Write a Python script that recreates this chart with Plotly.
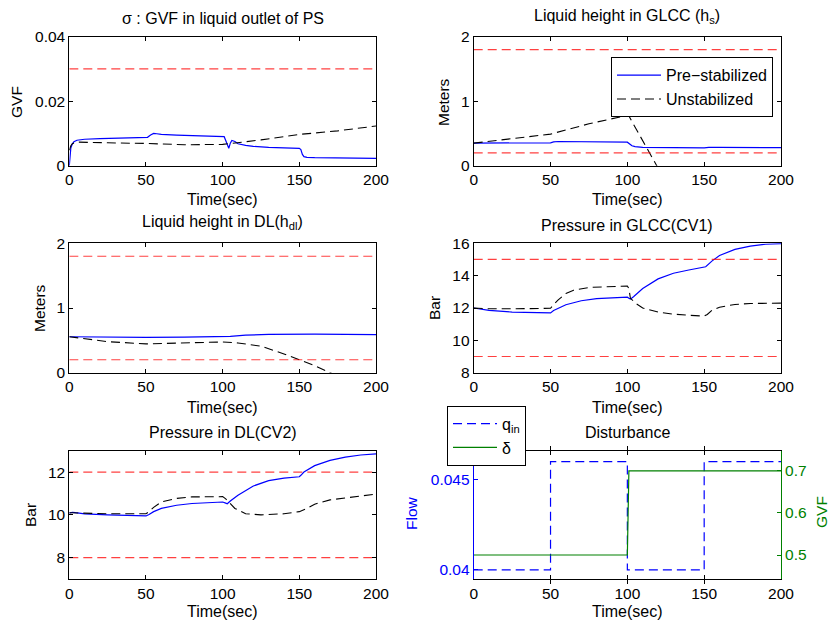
import plotly.graph_objects as go

# ---------------- data ----------------
gvf_pre_t = [0, 0.5, 1, 2, 3, 5, 10, 20, 30, 40, 50, 51, 53, 55, 57, 60, 70, 80, 90, 100, 101, 102, 103, 104, 105, 106, 108, 110, 115, 120, 130, 140, 150, 151, 152, 153, 155, 160, 180, 200]
gvf_pre_v = [0, 0.004, 0.0055, 0.0068, 0.0074, 0.0079, 0.0082, 0.0084, 0.0085, 0.0086, 0.0086, 0.0088, 0.0095, 0.0100, 0.0099, 0.0097, 0.0095, 0.0094, 0.0093, 0.0092, 0.0090, 0.0078, 0.0064, 0.0054, 0.0070, 0.0078, 0.0075, 0.0068, 0.0063, 0.0060, 0.0057, 0.0055, 0.0054, 0.0050, 0.0035, 0.0028, 0.0026, 0.0025, 0.0024, 0.0023]
gvf_un_t = [0, 1, 2, 4, 6, 10, 25, 50, 75, 100, 110, 125, 150, 175, 200]
gvf_un_v = [0.0048, 0.0062, 0.0068, 0.0072, 0.0073, 0.0073, 0.0071, 0.0069, 0.0065, 0.0066, 0.0071, 0.0080, 0.0097, 0.0108, 0.0123]
gvf_limits = [0.03]

hs_pre_t = [0, 50, 52, 55, 100, 101, 103, 105, 110, 150, 153, 160, 200]
hs_pre_v = [0.35, 0.355, 0.37, 0.375, 0.365, 0.35, 0.31, 0.295, 0.285, 0.275, 0.285, 0.285, 0.28]
hs_un_t = [0, 25, 50, 75, 100, 101, 125]
hs_un_v = [0.35, 0.42, 0.49, 0.65, 0.78, 0.77, -0.25]
hs_limits = [1.8, 0.2]

hdl_pre_t = [0, 25, 50, 75, 100, 105, 115, 130, 160, 200]
hdl_pre_v = [0.556, 0.548, 0.545, 0.55, 0.555, 0.56, 0.58, 0.592, 0.595, 0.59]
hdl_un_t = [0, 25, 50, 75, 100, 110, 125, 140, 150, 160, 170, 175]
hdl_un_v = [0.556, 0.48, 0.445, 0.455, 0.475, 0.46, 0.41, 0.29, 0.2, 0.11, 0.0, -0.05]
hdl_limits = [1.8, 0.2]

p1_pre_t = [0, 10, 25, 40, 50, 52, 55, 60, 70, 80, 90, 100, 101, 102, 104, 110, 120, 130, 140, 150, 151, 155, 160, 170, 180, 190, 200]
p1_pre_v = [12.0, 11.85, 11.75, 11.72, 11.7, 11.85, 12.0, 12.2, 12.45, 12.58, 12.63, 12.67, 12.6, 12.55, 12.7, 13.2, 13.8, 14.15, 14.35, 14.5, 14.55, 14.9, 15.25, 15.62, 15.83, 15.94, 15.98]
p1_un_t = [0, 10, 25, 50, 52, 55, 60, 65, 75, 90, 100, 101, 102, 106, 110, 120, 130, 140, 150, 152, 155, 160, 170, 180, 200]
p1_un_v = [12.0, 11.95, 11.95, 11.98, 12.2, 12.5, 12.9, 13.1, 13.27, 13.33, 13.36, 13.2, 12.6, 12.25, 12.0, 11.75, 11.62, 11.55, 11.5, 11.6, 11.85, 12.05, 12.22, 12.28, 12.3]
p1_limits = [15, 9]

p2_pre_t = [0, 2, 4, 10, 25, 40, 50, 52, 55, 60, 70, 80, 90, 100, 102, 103, 105, 110, 120, 130, 140, 150, 151, 153, 160, 170, 180, 190, 200]
p2_pre_v = [10.08, 10.12, 10.1, 10.05, 10.0, 9.97, 9.95, 10.02, 10.15, 10.3, 10.45, 10.53, 10.58, 10.6, 10.55, 10.52, 10.65, 10.92, 11.35, 11.6, 11.72, 11.78, 11.85, 12.0, 12.3, 12.55, 12.7, 12.8, 12.85]
p2_un_t = [0, 10, 25, 50, 52, 55, 60, 70, 80, 100, 102, 104, 108, 115, 125, 140, 150, 155, 160, 170, 180, 200]
p2_un_v = [10.1, 10.07, 10.05, 10.05, 10.15, 10.35, 10.6, 10.77, 10.84, 10.85, 10.75, 10.6, 10.3, 10.05, 10.0, 10.05, 10.15, 10.3, 10.5, 10.7, 10.8, 10.97]
p2_limits = [12, 8]

qin_t = [0, 50, 50, 100, 100, 150, 150, 200]
qin_v = [0.04, 0.04, 0.046, 0.046, 0.04, 0.04, 0.046, 0.046]
delta_t = [0, 100, 101, 200]
delta_v = [0.5, 0.5, 0.7, 0.7]

time_ticks = [0, 50, 100, 150, 200]

# ---------------- styles ----------------
FONT = "Liberation Sans, Arial, Helvetica, sans-serif"
BLUE = "#0000FF"
GREEN = "#008000"
RED = "rgba(255,0,0,0.75)"
DASH = "9px,5px"

W, H = 832, 624
XL = (69.3 / W, 376 / W)
XR = (473.7 / W, 781 / W)
def yd(top, bot):
    return (1 - bot / H, 1 - top / H)
Y1 = yd(36.7, 165.7)
Y2 = yd(243.3, 372.7)
Y3 = yd(450.7, 579)

fig = go.Figure()

panels = [
    (1, gvf_pre_t, gvf_pre_v, gvf_un_t, gvf_un_v, gvf_limits),
    (2, hs_pre_t, hs_pre_v, hs_un_t, hs_un_v, hs_limits),
    (3, hdl_pre_t, hdl_pre_v, hdl_un_t, hdl_un_v, hdl_limits),
    (4, p1_pre_t, p1_pre_v, p1_un_t, p1_un_v, p1_limits),
    (5, p2_pre_t, p2_pre_v, p2_un_t, p2_un_v, p2_limits),
]
for k, pt, pv, ut, uv, lims in panels:
    xa = "x" if k == 1 else f"x{k}"
    ya = "y" if k == 1 else f"y{k}"
    fig.add_trace(go.Scatter(x=pt, y=pv, mode="lines", line=dict(color=BLUE, width=1.2),
                             name="Pre\u2212stabilized", showlegend=(k == 2), legend="legend",
                             xaxis=xa, yaxis=ya))
    fig.add_trace(go.Scatter(x=ut, y=uv, mode="lines", line=dict(color="black", width=1.1, dash=DASH),
                             name="Unstabilized", showlegend=(k == 2), legend="legend",
                             xaxis=xa, yaxis=ya))
    for L in lims:
        fig.add_trace(go.Scatter(x=[time_ticks[0], time_ticks[-1]], y=[L, L], mode="lines",
                                 line=dict(color=RED, width=1.2, dash=DASH), showlegend=False,
                                 hoverinfo="skip", xaxis=xa, yaxis=ya))

fig.add_trace(go.Scatter(x=qin_t, y=qin_v, mode="lines", line=dict(color=BLUE, width=1.2, dash=DASH),
                         name="q<sub>in</sub>", legend="legend2", xaxis="x6", yaxis="y6"))
fig.add_trace(go.Scatter(x=delta_t, y=delta_v, mode="lines", line=dict(color=GREEN, width=1.2),
                         name="\u03b4", legend="legend2", xaxis="x6", yaxis="y7"))

def ax(domain, anchor, rng, tickvals, ticktext=None, color="black", mirror="allticks", side=None, overlaying=None):
    d = dict(domain=domain, anchor=anchor, range=rng, tickvals=tickvals, automargin=False,
             showline=True, linecolor=color, linewidth=1, mirror=mirror,
             ticks="inside", ticklen=4, tickcolor=color, showgrid=False, zeroline=False,
             tickfont=dict(size=15.5, color=color, family=FONT))
    if ticktext is not None:
        d["ticktext"] = ticktext
    if side:
        d["side"] = side
    if overlaying:
        d["overlaying"] = overlaying
    return d

xr = [0, 200]
layout = dict(
    width=W, height=H, margin=dict(l=0, r=0, t=0, b=0, autoexpand=False),
    paper_bgcolor="white", plot_bgcolor="white",
    font=dict(family=FONT, size=15, color="black"),
    xaxis=ax(XL, "y", xr, time_ticks),
    yaxis=ax(Y1, "x", [0, 0.04], [0, 0.02, 0.04], ["0", "0.02", "0.04"]),
    xaxis2=ax(XR, "y2", xr, time_ticks),
    yaxis2=ax(Y1, "x2", [0, 2], [0, 1, 2]),
    xaxis3=ax(XL, "y3", xr, time_ticks),
    yaxis3=ax(Y2, "x3", [0, 2], [0, 1, 2]),
    xaxis4=ax(XR, "y4", xr, time_ticks),
    yaxis4=ax(Y2, "x4", [8, 16], [8, 10, 12, 14, 16]),
    xaxis5=ax(XL, "y5", xr, time_ticks),
    yaxis5=ax(Y3, "x5", [7, 13], [8, 10, 12]),
    xaxis6=ax(XR, "y6", xr, time_ticks),
    yaxis6=ax(Y3, "x6", [0.0395, 0.0466], [0.04, 0.045], ["0.04", "0.045"], color=BLUE, mirror=False),
    yaxis7=ax(Y3, "x6", [0.443, 0.748], [0.5, 0.6, 0.7], ["0.5", "0.6", "0.7"], color=GREEN,
              mirror=False, side="right", overlaying="y6"),
    legend=dict(x=611 / W, y=1 - 57.3 / H, xanchor="left", yanchor="top",
                bgcolor="white", bordercolor="black", borderwidth=1,
                font=dict(size=16, family=FONT), itemwidth=44, tracegroupgap=0),
    legend2=dict(x=447 / W, y=1 - 405.7 / H, xanchor="left", yanchor="top",
                 bgcolor="white", bordercolor="black", borderwidth=1,
                 font=dict(size=16, family=FONT), itemwidth=44, tracegroupgap=0),
)
fig.update_layout(**layout)

ann = []
def text(x, y, s, color="black", angle=0, size=16):
    ann.append(dict(x=x / W, y=1 - y / H, xref="paper", yref="paper", text=s, showarrow=False,
                    xanchor="center", yanchor="middle", textangle=angle,
                    font=dict(size=size, color=color, family=FONT)))

cl = (69.3 + 376) / 2
cr = (473.7 + 781) / 2
text(cl, 18, "\u03c3 : GVF in liquid outlet of PS")
text(cr, 16, "Liquid height in GLCC (h<sub>s</sub>)")
text(cl, 222, "Liquid height in DL(h<sub>dl</sub>)")
text(cr, 225, "Pressure in GLCC(CV1)")
text(cl, 432, "Pressure in DL(CV2)")
text(cr, 432, "Disturbance")
for xc in (cl, cr):
    text(xc, 200, "Time(sec)")
    text(xc, 407, "Time(sec)")
    text(xc, 611.5, "Time(sec)")
text(17, 102, "GVF", angle=-90, size=15.5)
text(444, 102, "Meters", angle=-90, size=15.5)
text(39, 308, "Meters", angle=-90, size=15.5)
text(434, 308, "Bar", angle=-90, size=15.5)
text(30, 515, "Bar", angle=-90, size=15.5)
text(411, 513, "Flow", color=BLUE, angle=-90, size=15.5)
text(821, 512, "GVF", color=GREEN, angle=-90, size=15.5)
fig.update_layout(annotations=ann)

fig.write_html("out.html")
